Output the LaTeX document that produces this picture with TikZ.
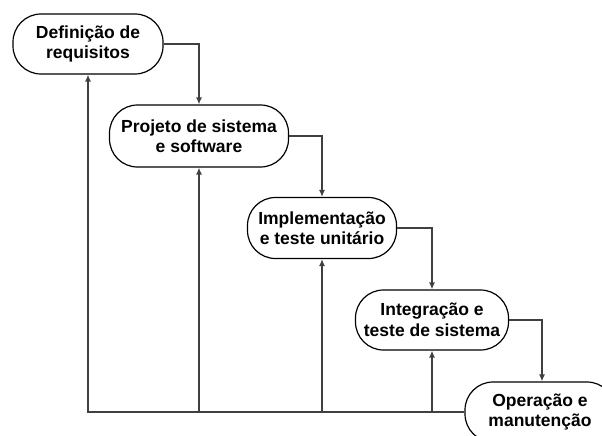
\documentclass[tikz,border=0pt]{standalone}
\usepackage{fontspec}
\setmainfont{Liberation Sans}
\usetikzlibrary{arrows.meta}
\begin{document}
\begin{tikzpicture}[x=1pt,y=-1pt,
  phase/.style={draw=black,line width=1.2pt,rounded corners=28pt,fill=white,
    align=center,inner sep=0pt,font=\fontsize{17.5}{20.5}\selectfont\bfseries},
  flow/.style={draw=black!75,line width=1.3pt,-{Latex[length=7pt,width=6pt]}},
  link/.style={draw=black!75,line width=1.3pt}]
\useasboundingbox (0,0) rectangle (602,436);
\clip (0,0) rectangle (602,436);
\node[phase,minimum width=150pt,minimum height=60pt] (b1) at (88,44) {Definição de\\requisitos};
\node[phase,minimum width=179pt,minimum height=62pt] (b2) at (199,136) {Projeto de sistema\\e software};
\node[phase,minimum width=149pt,minimum height=61pt] (b3) at (322,228) {Implementação\\e teste unitário};
\node[phase,minimum width=153pt,minimum height=60pt] (b4) at (432,320) {Integração e\\teste de sistema};
\node[phase,minimum width=150pt,minimum height=60pt] (b5) at (540,412) {Operação e\\manutenção};
% forward flow
\draw[flow] (b1.east) -| (b2.north);
\draw[flow] (b2.east) -| (b3.north);
\draw[flow] (b3.east) -| (b4.north);
\draw[flow] (b4.east) -| (b5.north -| 542,0);
% feedback
\coordinate (c2) at (b2.south |- b5.west);
\coordinate (c3) at (b3.south |- b5.west);
\coordinate (c4) at (b4.south |- b5.west);
\draw[flow] (b5.west) -| (b1.south);
\draw[flow] (c2) -- (b2.south);
\draw[flow] (c3) -- (b3.south);
\draw[flow] (c4) -- (b4.south);
\end{tikzpicture}
\end{document}
